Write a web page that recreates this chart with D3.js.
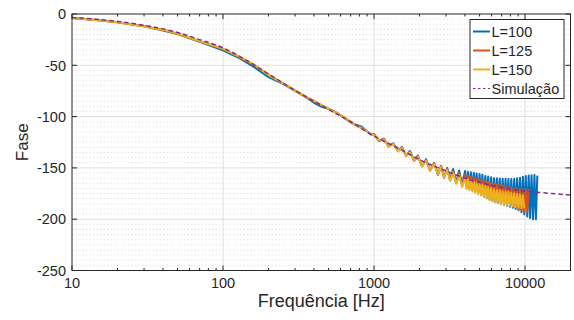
<!DOCTYPE html>
<html><head><meta charset="utf-8">
<script src="https://cdn.jsdelivr.net/npm/d3@7"></script>
<style>
body{margin:0;background:#fff}
svg{display:block}
text{font-family:"Liberation Sans",Arial,Helvetica,sans-serif;fill:#262626}
</style>
</head><body>
<svg id="chart" width="574" height="320"></svg>
<script>
// ---------- data ----------
const freq = [10, 15, 20, 30, 40, 50, 70, 100, 130, 160, 200, 250, 300, 350, 400, 450, 500, 550, 620, 700, 760, 820, 880, 950,
  1000, 1080, 1160, 1250, 1340, 1440, 1530, 1630, 1730, 1840, 1950, 2080, 2210, 2350, 2500, 2650, 2780, 2910, 3050, 3190,
  3340, 3500, 3660, 3830,
  4010, 4100, 4190, 4280, 4380, 4480, 4580, 4680, 4780, 4890, 5000, 5110, 5220, 5340, 5460, 5580, 5700, 5830, 5960, 6090,
  6230, 6370, 6510, 6650, 6800, 6950, 7110, 7270, 7430, 7590, 7760, 7930, 8110, 8290, 8480, 8670, 8860, 9060, 9260, 9470,
  9680, 9890, 10110, 10340, 10570, 10800, 11040, 11290, 11540, 11800, 12060];

const phaseL100 = [-4, -6, -8, -12, -16, -19.5, -27, -35.5, -43.5, -51.5, -61.5, -68, -75, -80.5, -86.5, -90.5, -92.5, -95, -100, -105.5, -108, -109.5, -113, -117.5,
  -117, -124, -121.5, -129, -126, -133.5, -129.5, -138, -133.5, -143, -138, -148.5, -141.5, -152.5, -145, -156.5, -148, -159.5, -150, -161.5,
  -151, -164, -152.5, -166.5,
  -153, -168.5, -153.8, -170, -154.3, -171.5, -154.7, -173, -155.4, -175, -156, -176.6, -156.7, -178.1, -157.8, -179.5, -158.5, -180.9, -159.2, -182.3,
  -160, -183.5, -160.2, -184.3, -160.3, -185.1, -160.5, -186, -160.6, -186.8, -160.8, -187.8, -160.9, -188.8, -160.6, -190, -160.1, -191.3, -159.6, -193.2,
  -158.7, -195.3, -157.9, -197.3, -157.5, -198.9, -157.2, -200, -157, -200, -157.5];

const phaseL125 = [-4, -6, -8, -12, -15.5, -19, -26.5, -34, -42.5, -49.5, -59, -67.5, -74.5, -80.5, -85, -89, -92.5, -95.5, -100, -105, -108.5, -111, -113.5, -117,
  -117.5, -123.5, -121.7, -129.1, -126.4, -133.6, -130.2, -138.3, -134.4, -143.1, -138.8, -148.2, -142.4, -152.4, -145.5, -156.3, -148.3, -159.3, -150.8, -162.3,
  -153.2, -165, -155.3, -167.3,
  -156.8, -168.8, -157.7, -169.9, -158.5, -170.9, -159.4, -171.9, -160.2, -173, -161, -174.1, -161.9, -175.2, -162.8, -176.3, -163.6, -177.3, -164.4, -178.4,
  -165.1, -179.4, -166, -180.5, -166.6, -181.5, -167.2, -182.5, -167.8, -183.6, -168.5, -184.7, -169.2, -186.6, -169.7, -188.6, -170.3, -190.6, -170.7, -191.6,
  -170.8, -192.7, -171, -193, -171];

const phaseL150 = [-4, -6, -8, -12, -15.5, -19, -26.5, -34, -42, -49, -59.5, -67.5, -74.5, -80, -84.5, -88.5, -92.5, -95.5, -100, -104.5, -108.5, -111, -113.5, -117,
  -118, -123.2, -122.2, -129, -126.8, -133.7, -130.7, -138.2, -134.8, -143, -139.3, -148.2, -143, -152.1, -146, -155.9, -149, -159.4, -152, -162.6,
  -154.6, -165.5, -157, -168.7,
  -160, -170.6, -161.2, -171.7, -162.3, -172.9, -163.3, -174.2, -164.2, -175.5, -165.3, -176.8, -166.3, -178.2, -167.4, -179.8, -168.6, -181.3, -169.9, -182.6,
  -170.9, -183.7, -171.5, -184.5, -172.1, -185.4, -172.7, -185.9, -173.2, -186.4, -173.6, -186.9, -174.2, -187.5, -174.8, -188.1, -175.4, -188.7, -176, -189.2,
  -177, -189.5];

const freqSim = [10, 15, 20, 30, 40, 50, 70, 100, 150, 200, 300, 400, 500, 700, 1000, 1500, 2000, 3000, 4300, 6000, 8000, 10000, 15000, 20000];
const phaseSim = [-3.3, -5.3, -7.2, -11, -14.5, -18, -25, -33, -47, -58.5, -74.5, -85, -93, -105, -119, -132, -142, -153, -161.5, -167, -170.5, -172.5, -175, -176.5];

const seriesNames = ["L=100", "L=125", "L=150", "Simulação"];
const xTickValues = [10, 100, 1000, 10000];
const xTickLabels = ["10", "100", "1000", "10000"];
const yTickValues = [0, -50, -100, -150, -200, -250];
const xLabel = "Frequência [Hz]";
const yLabel = "Fase";

// ---------- drawing ----------
const colors = ["#0072BD", "#D95319", "#EDB120", "#7E2F8E"];
const svg = d3.select("#chart");
const L = 72, R = 570.5, T = 14, B = 270.5;
const x = d3.scaleLog().domain([10, 20000]).range([L, R]);
const y = d3.scaleLinear().domain([-250, 0]).range([B, T]);
const axisColor = "#262626";

// minor horizontal grid (dotted)
const g = svg.append("g");
g.selectAll(".ymin").data(y.ticks(50).filter(v => v % 50 !== 0)).join("line")
  .attr("x1", L).attr("x2", R).attr("y1", d => y(d)).attr("y2", d => y(d))
  .attr("stroke", "#dcdcdc").attr("stroke-width", 0.8).attr("stroke-dasharray", "1.5,2");
// major grid
g.selectAll(".ymaj").data(yTickValues.filter(v => v !== 0 && v !== -250)).join("line")
  .attr("x1", L).attr("x2", R).attr("y1", d => y(d)).attr("y2", d => y(d))
  .attr("stroke", "#dedede").attr("stroke-width", 1);
g.selectAll(".xmaj").data(xTickValues.filter(v => v !== 10)).join("line")
  .attr("x1", d => x(d)).attr("x2", d => x(d)).attr("y1", T).attr("y2", B)
  .attr("stroke", "#dedede").attr("stroke-width", 1);

// series
const line = d3.line().x(d => x(d[0])).y(d => y(d[1]));
const measured = [phaseL100, phaseL125, phaseL150];
measured.forEach((arr, i) => {
  svg.append("path").datum(d3.zip(freq, arr)).attr("d", line)
    .attr("fill", "none").attr("stroke", colors[i]).attr("stroke-width", 2)
    .attr("stroke-linejoin", "round");
});
svg.append("path").datum(d3.zip(freqSim, phaseSim)).attr("d", line.curve(d3.curveMonotoneX))
  .attr("fill", "none").attr("stroke", colors[3]).attr("stroke-width", 1.5)
  .attr("stroke-dasharray", "4.5,3");

// axes box
const axG = svg.append("g");
axG.append("rect").attr("x", L).attr("y", T).attr("width", R - L).attr("height", B - T)
  .attr("fill", "none").attr("stroke", axisColor).attr("stroke-width", 1);

// x ticks (major + minor), bottom and top, inward
const xAll = x.ticks();
xAll.forEach(v => {
  const major = xTickValues.includes(v);
  const len = major ? 5 : 2.5;
  axG.append("line").attr("x1", x(v)).attr("x2", x(v)).attr("y1", B).attr("y2", B - len).attr("stroke", axisColor);
  axG.append("line").attr("x1", x(v)).attr("x2", x(v)).attr("y1", T).attr("y2", T + len).attr("stroke", axisColor);
});
yTickValues.forEach(v => {
  axG.append("line").attr("x1", L).attr("x2", L + 5).attr("y1", y(v)).attr("y2", y(v)).attr("stroke", axisColor);
  axG.append("line").attr("x1", R).attr("x2", R - 5).attr("y1", y(v)).attr("y2", y(v)).attr("stroke", axisColor);
});

// tick labels
axG.selectAll(".xl").data(xTickValues).join("text")
  .attr("x", d => x(d)).attr("y", 287.5).attr("text-anchor", "middle")
  .attr("font-size", "14.5px").text((d, i) => xTickLabels[i]);
axG.selectAll(".yl").data(yTickValues).join("text")
  .attr("x", 66).attr("y", d => y(d)).attr("dy", "0.36em").attr("text-anchor", "end")
  .attr("font-size", "14.5px").text(d => d);

// axis labels
svg.append("text").attr("x", (L + R) / 2).attr("y", 307).attr("text-anchor", "middle")
  .attr("font-size", "18px").text(xLabel);
svg.append("text").attr("transform", `translate(28,${(T + B) / 2}) rotate(-90)`)
  .attr("text-anchor", "middle").attr("font-size", "17px").text(yLabel);

// legend
const lg = svg.append("g");
lg.append("rect").attr("x", 470).attr("y", 19.5).attr("width", 94).attr("height", 79)
  .attr("fill", "#fff").attr("stroke", axisColor).attr("stroke-width", 1);
seriesNames.forEach((n, i) => {
  const yy = 31.5 + i * 19;
  lg.append("line").attr("x1", 473).attr("x2", 490).attr("y1", yy).attr("y2", yy)
    .attr("stroke", colors[i]).attr("stroke-width", i === 3 ? 1.2 : 2)
    .attr("stroke-dasharray", i === 3 ? "2.5,2.5" : null);
  lg.append("text").attr("x", 491.5).attr("y", yy).attr("dy", "0.36em")
    .attr("font-size", "14.5px").text(n);
});
</script>
</body></html>
